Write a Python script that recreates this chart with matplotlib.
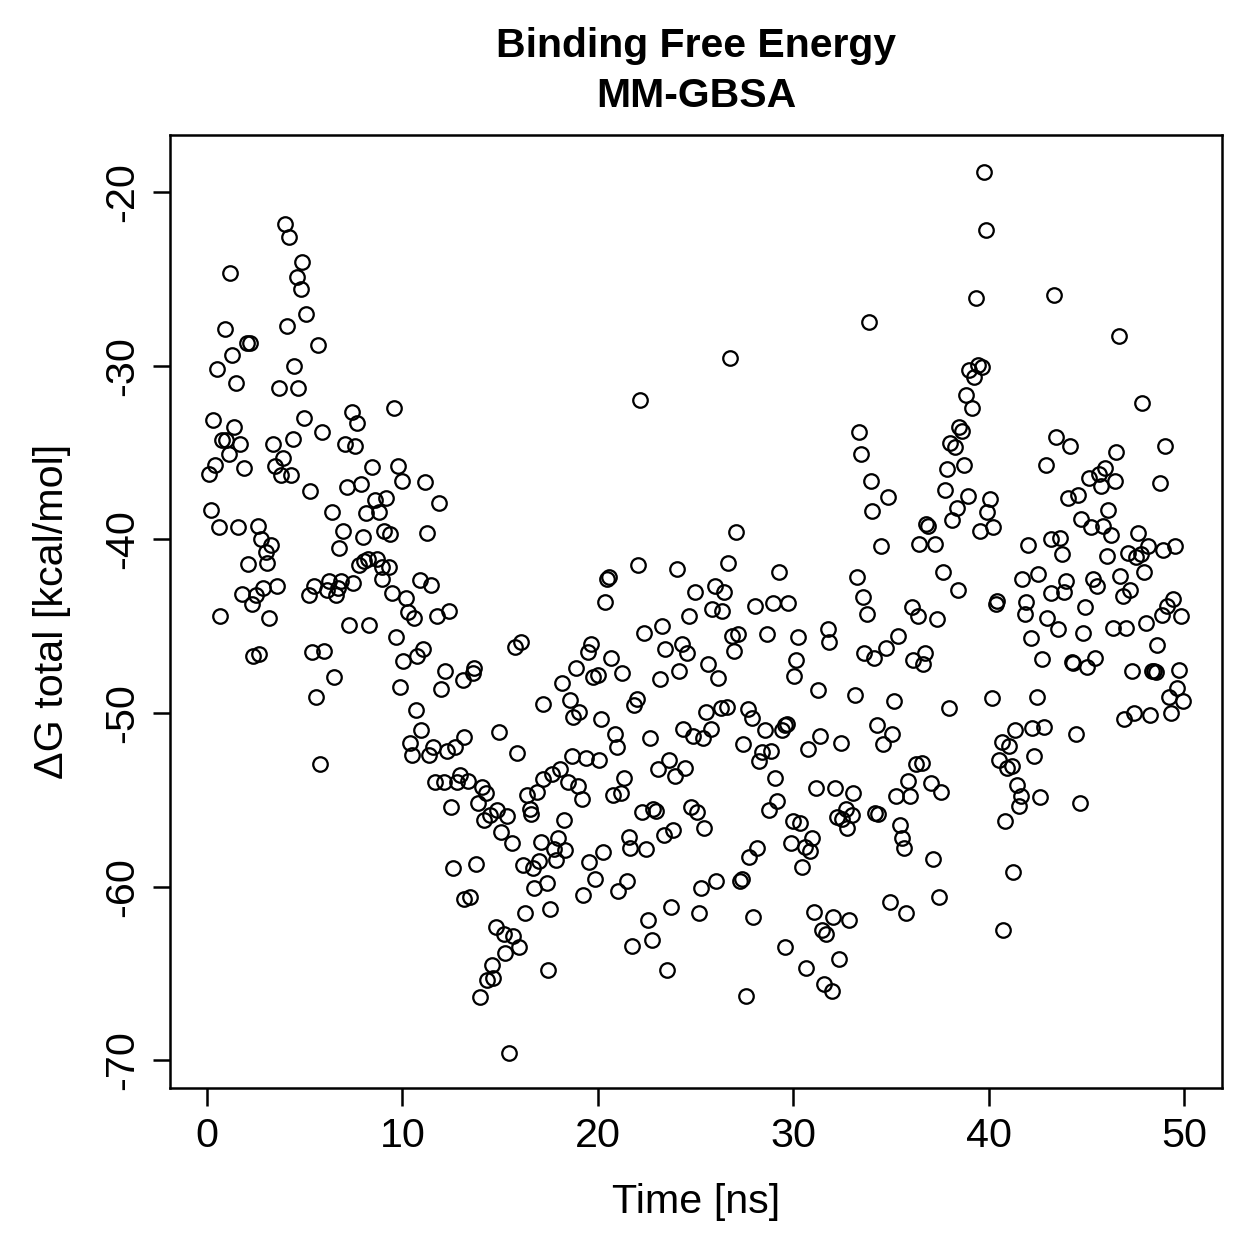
import matplotlib
matplotlib.use('Agg')
import matplotlib.pyplot as plt
import numpy as np

plt.rcParams['font.family'] = ['Liberation Sans', 'DejaVu Sans']
plt.rcParams['axes.unicode_minus'] = False

# ---- data (time in ns, dG total in kcal/mol) ----
time_a = [4.00, 4.18, 4.88, 1.18, 4.59, 4.79, 5.07, 4.08, 0.89, 2.03,
          2.20, 5.68, 1.28, 0.50, 4.47, 1.48, 3.67, 4.67, 0.29, 4.98,
          7.40, 7.68, 1.38, 5.89, 0.77, 0.97, 1.69, 3.39, 4.38, 7.06,
          7.59, 1.11, 3.87, 0.39, 0.09, 1.89, 3.50, 3.77, 4.28, 5.27,
          7.18, 7.86, 8.45, 0.19, 6.38, 8.14, 0.60, 1.59, 2.59, 2.75,
          3.29, 3.02, 2.08, 3.07, 6.98, 6.77, 7.97, 7.76, 8.03, 8.25,
          3.56, 2.88, 1.77, 2.51, 2.29, 5.48, 5.19, 6.26, 6.12, 6.87,
          6.70, 6.59, 7.47, 0.67, 3.17, 7.28, 8.30, 2.34, 2.68, 5.36,
          5.99, 6.47, 5.58, 5.78, 8.68]
dg_a = [-21.8, -22.6, -24.0, -24.65, -24.9, -25.6, -27.0, -27.7, -27.9, -28.7,
        -28.7, -28.8, -29.4, -30.2, -30.0, -31.0, -31.3, -31.3, -33.1, -33.0,
        -32.65, -33.3, -33.5, -33.8, -34.25, -34.25, -34.5, -34.5, -34.2, -34.5,
        -34.6, -35.1, -35.3, -35.7, -36.25, -35.9, -35.75, -36.3, -36.3, -37.2,
        -37.0, -36.8, -35.8, -38.3, -38.4, -38.5, -39.3, -39.3, -39.2, -40.0,
        -40.3, -40.7, -41.4, -41.35, -39.5, -40.5, -39.85, -41.5, -41.25, -41.15,
        -42.7, -42.8, -43.15, -43.2, -43.7, -42.7, -43.2, -42.4, -42.9, -42.4,
        -42.8, -43.2, -42.5, -44.4, -44.5, -44.9, -44.9, -46.7, -46.6, -46.5,
        -46.4, -47.9, -49.1, -52.95, -41.1]

time_b = [8.58, 9.18, 8.79, 9.57, 9.79, 9.98, 11.17, 11.87, 9.06, 9.38,
          11.27, 8.94, 9.30, 8.97, 10.88, 11.46, 9.48, 10.18, 10.27, 10.59,
          11.79, 12.37]
dg_b = [-37.7, -37.6, -38.4, -32.4, -35.75, -36.65, -36.7, -37.9, -39.5, -39.7,
        -39.6, -41.6, -41.6, -42.3, -42.35, -42.6, -43.1, -43.4, -44.2, -44.5,
        -44.4, -44.1]

time_c = [9.67, 11.07, 10.76, 10.05, 9.88, 12.18, 11.98, 13.68, 13.60, 13.09,
          15.76, 16.09, 10.68, 10.97, 10.39, 10.48, 11.58, 11.38, 12.27, 12.69,
          13.17, 14.96, 15.85, 11.67, 12.10, 12.78, 12.95, 13.37, 14.09, 14.28,
          12.47, 13.88, 14.86, 14.48, 14.18, 15.37, 16.36, 16.87, 16.53, 16.58,
          15.06, 15.59, 12.57, 13.77, 16.19, 16.67, 16.73, 13.17, 13.46, 16.27,
          14.77, 15.20, 15.68, 15.98, 15.27, 14.60, 14.31, 14.65, 13.97, 15.47]
dg_c = [-45.6, -46.3, -46.7, -47.0, -48.5, -47.6, -48.6, -47.4, -47.7, -48.1,
        -46.2, -45.9, -49.8, -50.95, -51.7, -52.4, -51.95, -52.4, -52.2, -51.95,
        -51.4, -51.1, -52.3, -53.95, -53.95, -53.95, -53.55, -53.9, -54.25, -54.6,
        -55.4, -55.2, -55.6, -55.9, -56.15, -55.95, -54.7, -54.55, -55.5, -55.8,
        -56.85, -57.5, -58.9, -58.7, -58.75, -58.95, -60.1, -60.7, -60.6, -61.5,
        -62.35, -62.75, -62.85, -63.5, -63.85, -64.5, -65.4, -65.25, -66.35, -69.6]

time_d = [22.16, 22.07, 24.07, 20.49, 20.59, 20.39, 24.97, 24.65, 23.27, 22.36,
          19.65, 19.48, 20.68, 18.87, 19.77, 19.99, 21.25, 18.17, 23.44, 24.29,
          24.56, 24.16, 23.17, 17.20, 18.58, 19.06, 18.75, 20.16, 21.99, 21.87,
          20.88, 20.97, 22.67, 24.34, 24.86, 25.37, 18.66, 19.38, 20.08, 18.08,
          17.67, 17.20, 18.49, 19.00, 19.18, 21.36, 21.17, 20.76, 23.66, 23.08,
          23.95, 24.46, 22.28, 22.84, 22.96, 24.77, 25.06, 25.43, 18.27, 23.87,
          23.37, 17.08, 17.98, 17.76, 18.34, 17.86, 21.58, 21.65, 22.45, 20.27,
          19.57, 19.86, 16.99, 17.38, 19.26, 21.05, 21.48, 25.27, 17.57, 23.76,
          25.16, 22.57, 22.77, 21.77, 17.47, 23.56]
dg_d = [-31.95, -41.45, -41.7, -42.25, -42.15, -43.6, -43.0, -44.4, -45.0, -45.4,
        -46.05, -46.5, -46.8, -47.4, -47.9, -47.8, -47.7, -48.25, -46.3, -46.0,
        -46.55, -47.6, -48.05, -49.5, -49.25, -49.95, -50.2, -50.35, -49.2, -49.55,
        -51.2, -51.95, -51.45, -50.9, -51.3, -51.45, -52.5, -52.6, -52.7, -53.2,
        -53.5, -53.8, -54.0, -54.2, -54.95, -53.75, -54.6, -54.7, -52.7, -53.2,
        -53.65, -53.15, -55.7, -55.55, -55.65, -55.4, -55.7, -56.65, -56.15, -56.75,
        -57.0, -57.45, -57.2, -57.85, -57.9, -58.45, -57.15, -57.75, -57.85, -58.0,
        -58.6, -59.55, -58.5, -59.8, -60.5, -60.25, -59.7, -60.1, -61.3, -61.2,
        -61.5, -61.9, -63.1, -63.4, -64.8, -64.8]

time_e = [25.55, 25.65, 25.78, 33.86, 26.77, 33.35, 33.47, 33.96, 34.05, 27.07,
          34.50, 26.66, 29.26, 25.98, 26.46, 25.84, 26.36, 28.06, 28.95, 29.75,
          33.25, 33.56, 33.76, 26.85, 27.19, 28.66, 30.25, 31.77, 31.85, 26.97,
          26.17, 30.16, 30.06, 31.25, 33.15, 33.64, 34.12, 26.29, 26.60, 27.67,
          27.88, 28.57, 29.41, 29.58, 29.67, 27.45, 28.39, 28.27, 28.85, 30.76,
          31.37, 32.46, 34.30, 34.60, 29.07, 29.17, 28.76, 31.17, 32.16, 33.06,
          29.97, 30.35, 32.22, 32.69, 33.00, 32.48, 32.74, 34.19, 34.36, 29.87,
          30.60, 30.86, 30.98, 28.16, 27.75, 30.47, 26.05, 27.28, 27.40, 27.96,
          31.07, 32.05, 32.86, 31.47, 31.66, 29.56, 32.36, 30.65, 31.56, 31.97,
          27.57]
dg_e = [-49.95, -47.15, -50.9, -27.45, -29.55, -33.8, -35.05, -36.65, -38.35, -39.55,
        -40.4, -41.35, -41.9, -42.7, -43.05, -44.0, -44.1, -43.85, -43.65, -43.65,
        -42.15, -43.3, -44.3, -45.55, -45.45, -45.45, -45.6, -45.15, -45.9, -46.45,
        -48.0, -46.95, -47.85, -48.7, -48.95, -46.55, -46.85, -49.7, -49.65, -49.75,
        -50.3, -50.95, -51.0, -50.7, -50.65, -51.8, -52.25, -52.75, -52.2, -52.05,
        -51.3, -51.75, -50.7, -51.8, -53.75, -55.05, -55.6, -54.3, -54.3, -54.6,
        -56.2, -56.35, -56.0, -55.55, -55.9, -56.1, -56.65, -55.75, -55.8, -57.5,
        -57.7, -57.95, -57.2, -57.8, -58.3, -58.85, -59.65, -59.65, -59.55, -61.75,
        -61.45, -61.75, -61.95, -62.5, -62.75, -63.5, -64.15, -64.7, -65.6, -66.0,
        -66.3]

time_f = [39.75, 39.85, 39.34, 43.35, 39.00, 39.27, 39.47, 39.68, 38.86, 39.15,
          38.50, 38.64, 38.02, 38.26, 43.45, 37.87, 38.76, 42.92, 34.87, 37.77,
          38.93, 40.07, 39.93, 38.37, 38.14, 39.56, 40.24, 36.78, 36.90, 36.44,
          37.24, 42.04, 43.18, 37.65, 38.45, 41.73, 42.54, 43.20, 36.06, 36.37,
          37.34, 40.41, 40.36, 41.94, 41.86, 42.97, 35.36, 34.75, 36.74, 36.15,
          36.66, 42.17, 42.75, 35.16, 37.96, 40.16, 42.46, 35.04, 41.35, 42.24,
          42.83, 40.67, 41.06, 42.34, 40.55, 40.93, 41.18, 36.27, 36.57, 35.86,
          35.26, 35.98, 37.07, 37.56, 41.45, 41.67, 41.56, 42.65, 40.84, 35.47,
          35.57, 35.65, 37.17, 41.27, 37.45, 34.95, 35.76, 40.75]
dg_f = [-18.85, -22.2, -26.1, -25.9, -30.25, -30.65, -29.95, -30.05, -31.7, -32.4,
        -33.5, -33.75, -34.45, -34.7, -34.1, -35.95, -35.7, -35.7, -37.55, -37.15,
        -37.5, -37.65, -38.4, -38.2, -38.9, -39.5, -39.3, -39.1, -39.25, -40.25,
        -40.25, -40.3, -39.95, -41.85, -42.9, -42.3, -42.0, -43.1, -43.9, -44.4,
        -44.6, -43.55, -43.7, -43.6, -44.3, -44.55, -45.55, -46.25, -46.55, -46.95,
        -47.2, -45.7, -46.9, -49.3, -49.7, -49.15, -49.1, -51.2, -50.95, -50.85,
        -50.8, -51.65, -51.9, -52.45, -52.7, -53.15, -53.05, -52.95, -52.9, -53.9,
        -54.75, -54.8, -54.05, -54.55, -54.15, -54.8, -55.35, -54.85, -56.2, -56.45,
        -57.2, -57.75, -58.4, -59.15, -60.6, -60.9, -61.5, -62.5]

time_g = [46.66, 47.85, 44.17, 46.54, 49.04, 45.14, 45.67, 45.96, 45.74, 46.47,
          48.76, 44.06, 44.58, 46.14, 44.75, 45.24, 45.87, 46.26, 43.65, 43.74,
          46.04, 47.63, 48.14, 47.12, 47.54, 47.78, 48.94, 49.54, 47.95, 46.72,
          43.96, 43.86, 45.33, 45.56, 47.24, 46.86, 44.95, 49.45, 49.15, 48.86,
          49.85, 43.57, 44.85, 46.35, 47.03, 48.05, 48.64, 44.25, 44.34, 45.45,
          45.05, 47.36, 48.38, 48.48, 48.57, 49.74, 49.66, 49.25, 49.93, 49.35,
          47.46, 46.94, 48.26, 44.46, 44.66]
dg_g = [-28.3, -32.15, -34.6, -34.95, -34.6, -36.45, -36.25, -35.9, -36.9, -36.65,
        -36.75, -37.6, -37.45, -38.3, -38.85, -39.3, -39.2, -39.75, -39.9, -40.85,
        -40.95, -39.6, -40.35, -40.8, -41.0, -40.85, -40.6, -40.4, -41.85, -42.1,
        -42.4, -43.05, -42.25, -42.7, -42.9, -43.25, -43.9, -43.45, -43.85, -44.35,
        -44.4, -45.13, -45.4, -45.1, -45.1, -44.8, -46.1, -47.05, -47.1, -46.8,
        -47.35, -47.6, -47.6, -47.55, -47.65, -47.5, -48.55, -49.1, -49.3, -49.98,
        -49.98, -50.33, -50.1, -51.2, -55.2]

x_ticks = [0, 10, 20, 30, 40, 50]
y_ticks = [-70, -60, -50, -40, -30, -20]

time = np.concatenate([time_a, time_b, time_c, time_d, time_e, time_f, time_g])
dg = np.concatenate([dg_a, dg_b, dg_c, dg_d, dg_e, dg_f, dg_g])

W = H = 1259
fig = plt.figure(figsize=(W / 180, H / 180), dpi=180)
ax = fig.add_axes([170 / W, 1 - 1088 / H, (1222 - 170) / W, (1088 - 135) / H])

ax.plot(time, dg, linestyle='none', marker='o', ms=5.8, mfc='none',
        mec='black', mew=0.9)

ax.set_xlim(-1.9, 51.95)
ax.set_ylim(-71.6, -16.7)
ax.set_xticks(x_ticks)
ax.set_yticks(y_ticks)
ax.tick_params(direction='out', length=7.0, width=1.0, labelsize=16.5,
               pad=4.5, colors='black')
for lab in ax.get_yticklabels():
    lab.set_rotation(90)
    lab.set_va('center')
for s in ax.spines.values():
    s.set_linewidth(1.0)

fig.text(0.553, 1 - 1202 / H, 'Time [ns]', ha='center', va='center', fontsize=16.5)
fig.text(52 / W, 1 - 611 / H, '\u0394G total [kcal/mol]', ha='center',
         va='center', rotation=90, fontsize=16.5)
fig.text(0.553, 1 - 46 / H, 'Binding Free Energy', ha='center', va='center',
         fontsize=16.4, fontweight='bold')
fig.text(0.553, 1 - 96 / H, 'MM-GBSA', ha='center', va='center',
         fontsize=16.4, fontweight='bold')

fig.savefig('out.png', dpi=180)
